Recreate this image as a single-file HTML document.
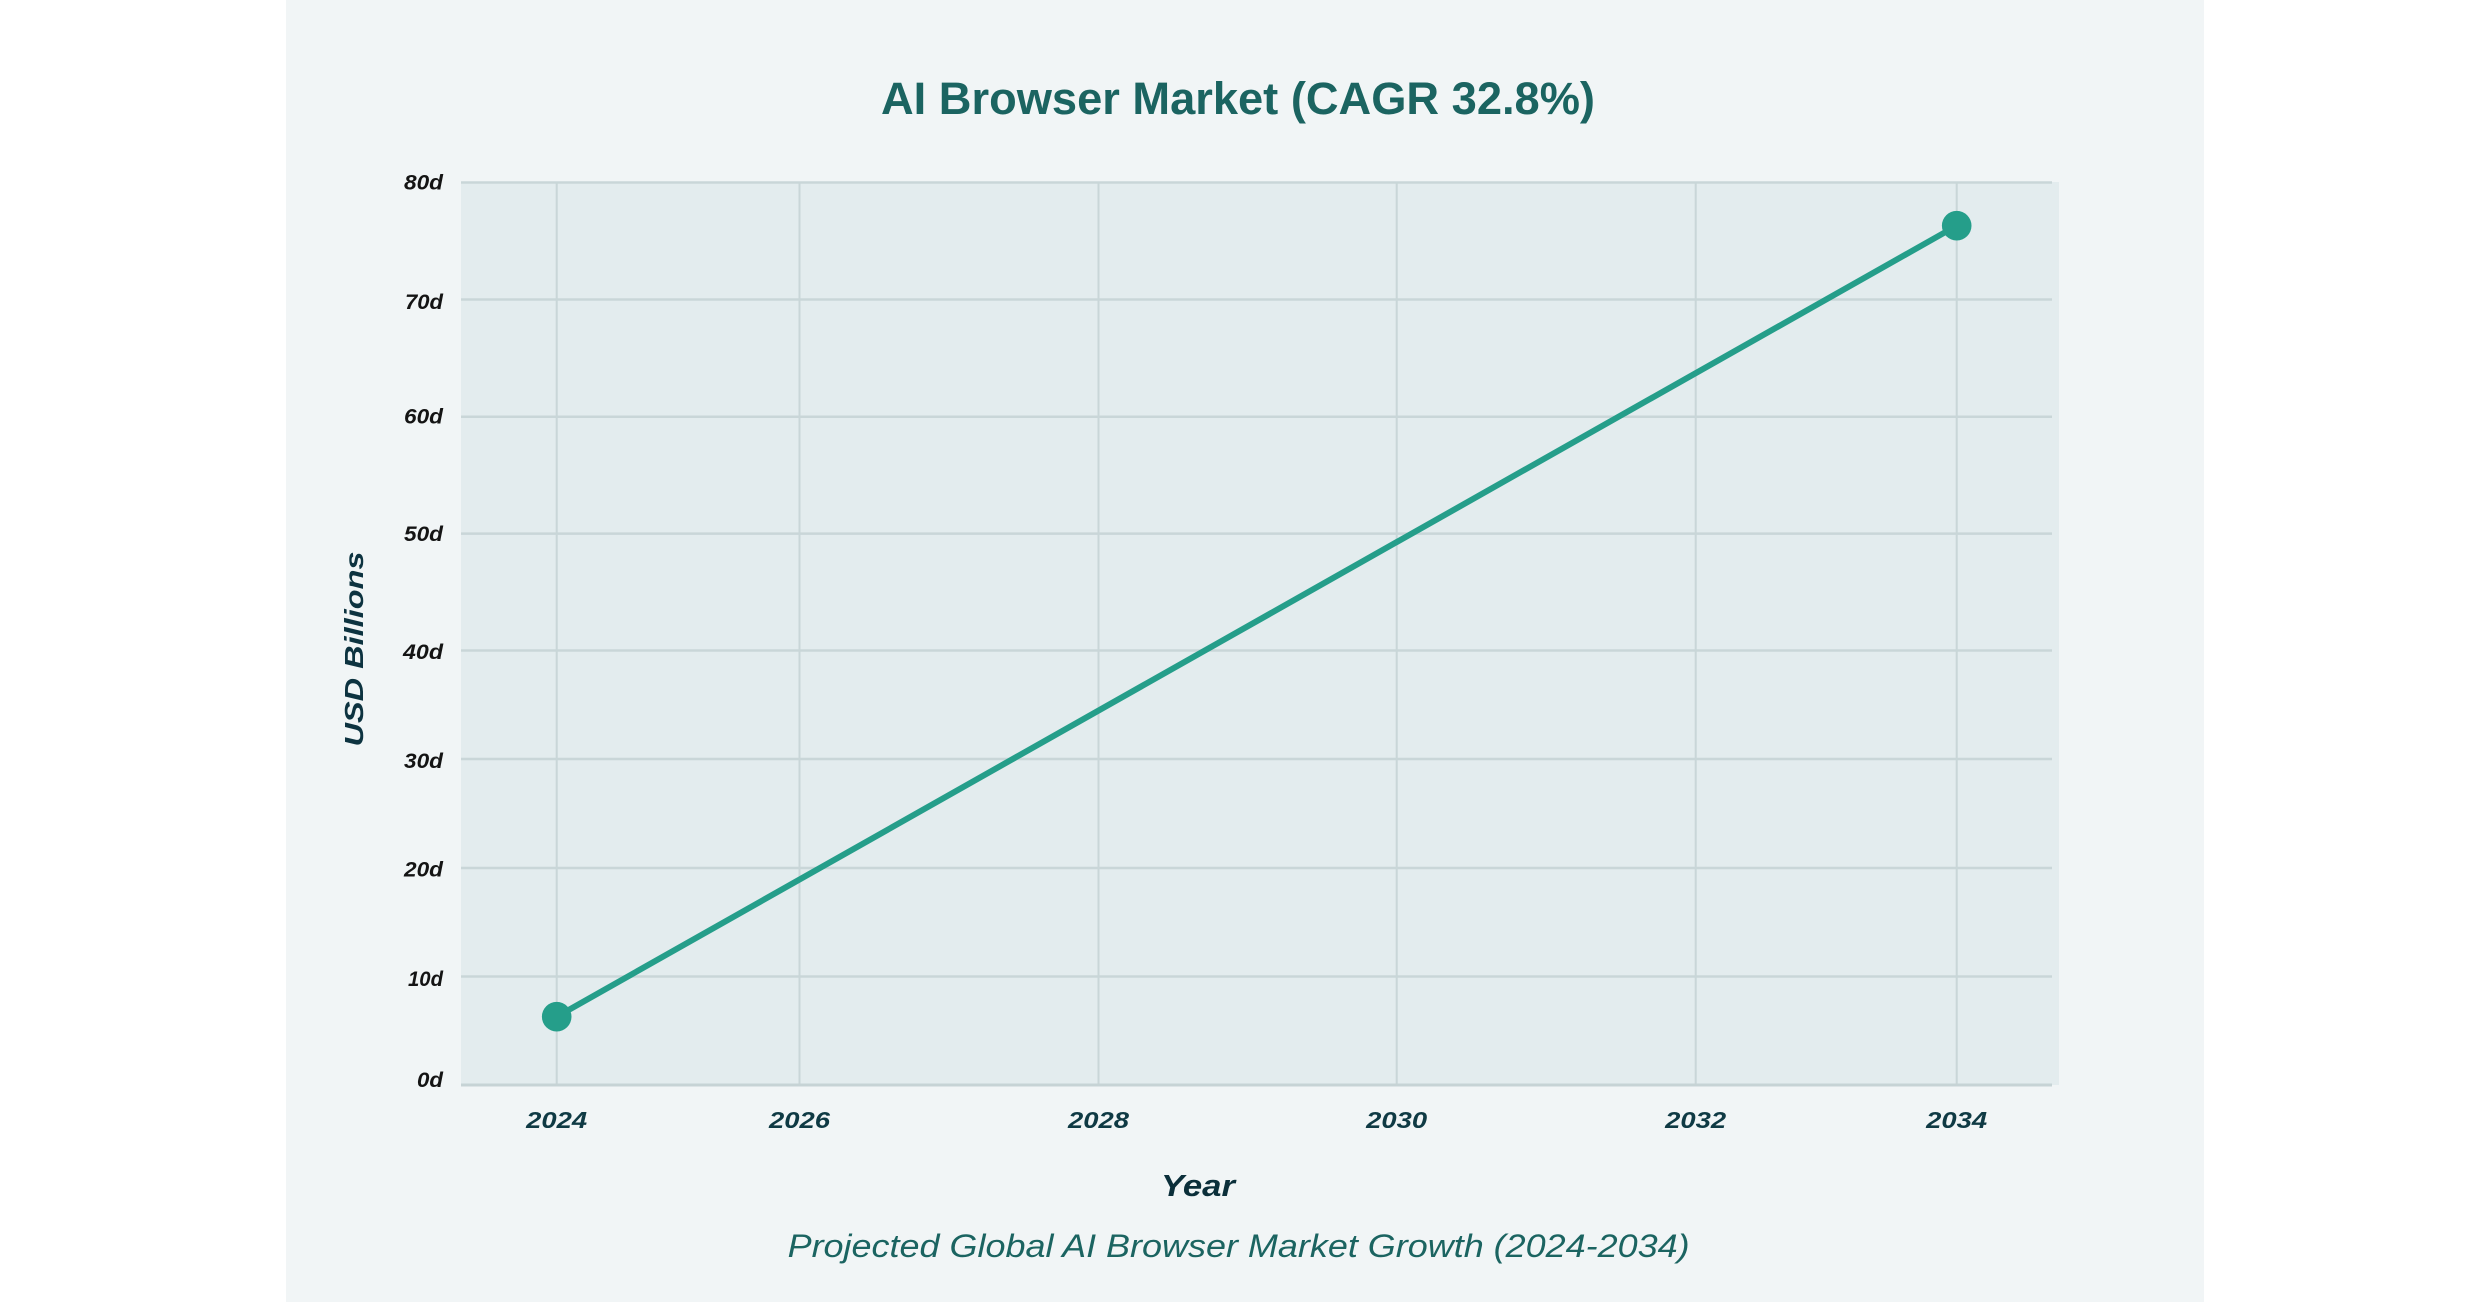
<!DOCTYPE html>
<html>
<head>
<meta charset="utf-8">
<style>
  html, body { margin: 0; padding: 0; background: #ffffff; }
  body { width: 2490px; height: 1302px; overflow: hidden; }
  svg { display: block; }
  text { font-family: "Liberation Sans", "DejaVu Sans", sans-serif; }
</style>
</head>
<body>
<svg width="2490" height="1302" viewBox="0 0 2490 1302" xmlns="http://www.w3.org/2000/svg">
  <!-- page background -->
  <rect x="0" y="0" width="2490" height="1302" fill="#ffffff"/>
  <!-- panel -->
  <rect x="286" y="0" width="1918" height="1302" fill="#f1f5f6"/>

  <!-- title -->
  <text x="1238" y="114" text-anchor="middle" font-size="45" font-weight="bold" fill="#1b6461" textLength="714" lengthAdjust="spacingAndGlyphs">AI Browser Market (CAGR 32.8%)</text>

  <!-- plot background -->
  <rect x="461" y="182" width="1598" height="903" fill="#e3ecee"/>

  <!-- horizontal gridlines -->
  <g stroke="#c9d6d8" stroke-width="2.5">
    <line x1="461" y1="182.5" x2="2052" y2="182.5"/>
    <line x1="461" y1="299.5" x2="2052" y2="299.5"/>
    <line x1="461" y1="416.7" x2="2052" y2="416.7"/>
    <line x1="461" y1="533.6" x2="2052" y2="533.6"/>
    <line x1="461" y1="650.5" x2="2052" y2="650.5"/>
    <line x1="461" y1="759" x2="2052" y2="759"/>
    <line x1="461" y1="868" x2="2052" y2="868"/>
    <line x1="461" y1="976.5" x2="2052" y2="976.5"/>
  </g>
  <!-- vertical gridlines -->
  <g stroke="#c9d6d8" stroke-width="2">
    <line x1="556.7" y1="182" x2="556.7" y2="1085"/>
    <line x1="799.5" y1="182" x2="799.5" y2="1085"/>
    <line x1="1098.5" y1="182" x2="1098.5" y2="1085"/>
    <line x1="1396.7" y1="182" x2="1396.7" y2="1085"/>
    <line x1="1695.7" y1="182" x2="1695.7" y2="1085"/>
    <line x1="1956.7" y1="182" x2="1956.7" y2="1085"/>
  </g>
  <!-- bottom axis line -->
  <line x1="461" y1="1085" x2="2052" y2="1085" stroke="#c6d3d5" stroke-width="3"/>

  <!-- y tick labels -->
  <g font-size="21" font-style="italic" font-weight="600" fill="#141414" text-anchor="end">
    <text x="443" y="189.5" textLength="39" lengthAdjust="spacingAndGlyphs">80d</text>
    <text x="443" y="309" textLength="38" lengthAdjust="spacingAndGlyphs">70d</text>
    <text x="443" y="423.5" textLength="39" lengthAdjust="spacingAndGlyphs">60d</text>
    <text x="443" y="541" textLength="39" lengthAdjust="spacingAndGlyphs">50d</text>
    <text x="443" y="659" textLength="40" lengthAdjust="spacingAndGlyphs">40d</text>
    <text x="443" y="768" textLength="39" lengthAdjust="spacingAndGlyphs">30d</text>
    <text x="443" y="876.5" textLength="39" lengthAdjust="spacingAndGlyphs">20d</text>
    <text x="443" y="986" textLength="35" lengthAdjust="spacingAndGlyphs">10d</text>
    <text x="443" y="1087" textLength="26" lengthAdjust="spacingAndGlyphs">0d</text>
  </g>

  <!-- x tick labels -->
  <g font-size="23" font-style="italic" font-weight="600" fill="#0f3a44" text-anchor="middle">
    <text x="556.7" y="1128" textLength="61" lengthAdjust="spacingAndGlyphs">2024</text>
    <text x="799.5" y="1128" textLength="61" lengthAdjust="spacingAndGlyphs">2026</text>
    <text x="1098.5" y="1128" textLength="61" lengthAdjust="spacingAndGlyphs">2028</text>
    <text x="1396.7" y="1128" textLength="61" lengthAdjust="spacingAndGlyphs">2030</text>
    <text x="1695.7" y="1128" textLength="61" lengthAdjust="spacingAndGlyphs">2032</text>
    <text x="1956.7" y="1128" textLength="61" lengthAdjust="spacingAndGlyphs">2034</text>
  </g>

  <!-- data line -->
  <line x1="556.7" y1="1016.7" x2="1956.7" y2="225.7" stroke="#259e8a" stroke-width="6" stroke-linecap="round"/>
  <circle cx="556.7" cy="1016.7" r="14.8" fill="#259e8a"/>
  <circle cx="1956.7" cy="225.7" r="14.8" fill="#259e8a"/>

  <!-- y axis title -->
  <text transform="translate(363,649) rotate(-90)" x="0" y="0" text-anchor="middle" font-size="26" font-style="italic" font-weight="bold" fill="#0d3340" textLength="195" lengthAdjust="spacingAndGlyphs">USD Billions</text>

  <!-- x axis title -->
  <text x="1198" y="1196" text-anchor="middle" font-size="31" font-style="italic" font-weight="bold" fill="#0b2f3a" textLength="74" lengthAdjust="spacingAndGlyphs">Year</text>

  <!-- subtitle -->
  <text x="1238.6" y="1257" text-anchor="middle" font-size="32" font-style="italic" fill="#1b6461" textLength="902" lengthAdjust="spacingAndGlyphs">Projected Global AI Browser Market Growth (2024-2034)</text>
</svg>
</body>
</html>
